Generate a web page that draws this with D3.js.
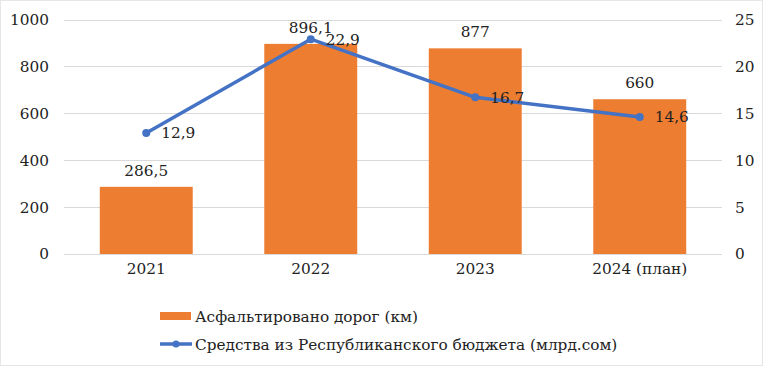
<!DOCTYPE html>
<html>
<head>
<meta charset="utf-8">
<script src="https://cdn.jsdelivr.net/npm/d3@7"></script>
<style>
  body { margin: 0; background: #fff; }
  svg text { font-family: "DejaVu Serif", "Liberation Serif", serif; }
</style>
</head>
<body>
<svg id="chart" width="763" height="366"></svg>
<script>
var years = ["2021", "2022", "2023", "2024 (план)"];
var roads = [286.5, 896.1, 877, 660];
var budget = [12.9, 22.9, 16.7, 14.6];
var leftTicks = [0, 200, 400, 600, 800, 1000];
var rightTicks = [0, 5, 10, 15, 20, 25];

var svg = d3.select("#chart"),
    width = +svg.attr("width"),
    height = +svg.attr("height");

var fmt = function(v) { return String(v).replace(".", ","); };
var fs = 15.3;

svg.append("rect")
  .attr("x", 0.5).attr("y", 0.5)
  .attr("width", width - 1).attr("height", height - 1)
  .attr("fill", "#fff").attr("stroke", "#e6e6e6");

var pLeft = 64, pRight = 722, pTop = 19.5, pBottom = 254;

var x = d3.scaleBand().domain(years).range([pLeft, pRight]).paddingInner(0.435).paddingOuter(0.2175);
var yL = d3.scaleLinear().domain([0, 1000]).range([pBottom, pTop]);
var yR = d3.scaleLinear().domain([0, 25]).range([pBottom, pTop]);

// gridlines
svg.append("g").selectAll("line")
  .data(leftTicks)
  .enter().append("line")
  .attr("x1", pLeft).attr("x2", pRight)
  .attr("y1", function(d) { return Math.round(yL(d)) + 0.5; })
  .attr("y2", function(d) { return Math.round(yL(d)) + 0.5; })
  .attr("stroke", "#d9d9d9");

// axes
var axL = svg.append("g").attr("transform", "translate(" + (pLeft - 15) + ",0)")
  .call(d3.axisLeft(yL).tickValues(leftTicks).tickFormat(d3.format("d")).tickSize(0).tickPadding(0));
var axR = svg.append("g").attr("transform", "translate(" + (pRight + 13) + ",0)")
  .call(d3.axisRight(yR).tickValues(rightTicks).tickFormat(d3.format("d")).tickSize(0).tickPadding(0));
var axB = svg.append("g").attr("transform", "translate(0," + pBottom + ")")
  .call(d3.axisBottom(x).tickSize(0).tickPadding(9));
[axL, axR, axB].forEach(function(a) {
  a.attr("font-family", null);
  a.select(".domain").remove();
  a.selectAll("text").attr("font-size", fs).attr("fill", "#222");
});

// bars
svg.append("g").selectAll("rect")
  .data(roads)
  .enter().append("rect")
  .attr("x", function(d, i) { return x(years[i]); })
  .attr("y", function(d) { return yL(d); })
  .attr("width", x.bandwidth())
  .attr("height", function(d) { return pBottom - yL(d); })
  .attr("fill", "#ed7d31");

svg.append("g").selectAll("text")
  .data(roads)
  .enter().append("text")
  .attr("x", function(d, i) { return x(years[i]) + x.bandwidth() / 2; })
  .attr("y", function(d) { return yL(d) - 11; })
  .attr("text-anchor", "middle")
  .attr("font-size", fs).attr("fill", "#222")
  .text(fmt);

// line
var cx = function(i) { return x(years[i]) + x.bandwidth() / 2; };
var line = d3.line().x(function(d, i) { return cx(i); }).y(function(d) { return yR(d); });
svg.append("path")
  .datum(budget)
  .attr("d", line)
  .attr("fill", "none")
  .attr("stroke", "#4472c4")
  .attr("stroke-width", 3.5)
  .attr("stroke-linejoin", "round");

svg.append("g").selectAll("circle")
  .data(budget)
  .enter().append("circle")
  .attr("cx", function(d, i) { return cx(i); })
  .attr("cy", function(d) { return yR(d); })
  .attr("r", 4)
  .attr("fill", "#4472c4");

svg.append("g").selectAll("text")
  .data(budget)
  .enter().append("text")
  .attr("x", function(d, i) { return cx(i) + 15; })
  .attr("y", function(d) { return yR(d); })
  .attr("dy", "0.35em")
  .attr("font-size", fs).attr("fill", "#222")
  .text(fmt);

// legend
var lg = svg.append("g");
lg.append("rect").attr("x", 160).attr("y", 312).attr("width", 31).attr("height", 8).attr("fill", "#ed7d31");
lg.append("text").attr("x", 195).attr("y", 317).attr("dy", "0.35em")
  .attr("font-size", fs).attr("fill", "#222").text("Асфальтировано дорог (км)");
lg.append("line").attr("x1", 160).attr("x2", 192).attr("y1", 344).attr("y2", 344)
  .attr("stroke", "#4472c4").attr("stroke-width", 3.5);
lg.append("circle").attr("cx", 176).attr("cy", 344).attr("r", 3.5).attr("fill", "#4472c4");
lg.append("text").attr("x", 195).attr("y", 345).attr("dy", "0.35em")
  .attr("font-size", fs).attr("fill", "#222").text("Средства из Республиканского бюджета (млрд.сом)");
</script>
</body>
</html>
